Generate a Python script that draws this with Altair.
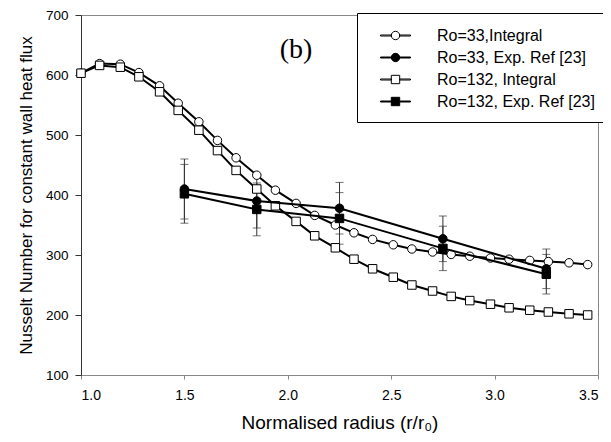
import altair as alt
import pandas as pd

# ---------------- data ----------------
series_names = ["Ro=33,Integral", "Ro=33, Exp. Ref [23]", "Ro=132, Integral", "Ro=132, Exp. Ref [23]"]

x_integral = [1.00, 1.09, 1.19, 1.28, 1.38, 1.47, 1.57, 1.66, 1.75, 1.85, 1.94, 2.04, 2.13,
              2.23, 2.32, 2.41, 2.51, 2.60, 2.70, 2.79, 2.88, 2.98, 3.07, 3.17, 3.26, 3.36, 3.45]
nu_ro33_integral = [603, 619, 618, 604, 582, 553, 522, 491, 462, 433, 408, 386, 366,
                    350, 337, 326, 317, 310, 305, 301, 298, 295, 293, 291, 289, 287, 284]
nu_ro132_integral = [603, 616, 613, 597, 572, 541, 508, 474, 441, 410, 382, 356, 332,
                     312, 293, 277, 263, 250, 240, 231, 224, 218, 212, 208, 205, 202, 200]

x_exp = [1.5, 1.85, 2.25, 2.75, 3.25]
nu_ro33_exp = [410, 390, 378, 327, 277]
err_ro33_exp = [50, 45, 43, 38, 33]
nu_ro132_exp = [402, 376, 361, 311, 268]
err_ro132_exp = [49, 44, 43, 37, 33]

annot_x = [2.04]
annot_y = [642]
annot_text = ["(b)"]

x_ticks = [1.0, 1.5, 2.0, 2.5, 3.0, 3.5]
y_ticks = [100, 200, 300, 400, 500, 600, 700]

# ---------------- tables ----------------
int_rows = []
for name, vals in [(series_names[0], nu_ro33_integral), (series_names[2], nu_ro132_integral)]:
    for x, v in zip(x_integral, vals):
        int_rows.append({"x": x, "nu": v, "series": name})
df_int = pd.DataFrame(int_rows)

exp_rows = []
for name, vals, errs in [(series_names[1], nu_ro33_exp, err_ro33_exp),
                         (series_names[3], nu_ro132_exp, err_ro132_exp)]:
    for x, v, e in zip(x_exp, vals, errs):
        exp_rows.append({"x": x, "nu": v, "lo": v - e, "hi": v + e, "series": name})
df_exp = pd.DataFrame(exp_rows)

df_all = pd.concat([df_int, df_exp[["x", "nu", "series"]]], ignore_index=True)
df_annot = pd.DataFrame({"x": annot_x, "nu": annot_y, "label": annot_text})

FONT = "Liberation Sans"
YTITLE = "Nusselt Number for constant wall heat flux"
XTITLE = "Normalised radius (r/r\u2080)"

xenc = alt.X("x:Q", scale=alt.Scale(domain=[1, 3.5], nice=False, zero=False),
             axis=alt.Axis(values=x_ticks, format=".1f", title=XTITLE, grid=False,
                           domainColor="#888", tickColor="#888", tickSize=4,
                           labelFont=FONT, labelFontSize=14, labelColor="black",
                           titleFont=FONT, titleFontWeight="normal", titleColor="black",
                           labelPadding=9, titlePadding=11, titleFontSize=19))


def yenc(field):
    return alt.Y(f"{field}:Q", scale=alt.Scale(domain=[100, 700], nice=False, zero=False),
                 axis=alt.Axis(values=y_ticks, title=YTITLE, grid=False,
                               domainColor="#333", tickColor="#333", tickSize=6,
                               labelFont=FONT, labelFontSize=13.5, labelColor="black",
                               titleFont=FONT, titleFontWeight="normal", titleColor="black",
                               labelPadding=7, titlePadding=10, titleFontSize=17))


layers = []

# error bars
for name in [series_names[1], series_names[3]]:
    src = alt.Chart(df_exp).transform_filter(alt.datum.series == name)
    layers.append(src.mark_rule(color="#333", strokeWidth=1).encode(x=xenc, y=yenc("lo"), y2="hi:Q"))
    layers.append(src.mark_tick(orient="horizontal", size=8, thickness=1, color="#333")
                  .encode(x=xenc, y=yenc("hi")))
    layers.append(src.mark_tick(orient="horizontal", size=8, thickness=1, color="#333")
                  .encode(x=xenc, y=yenc("lo")))

styles = {
    series_names[0]: ("circle", "white", df_int),
    series_names[2]: ("square", "white", df_int),
    series_names[1]: ("circle", "black", df_exp),
    series_names[3]: ("square", "black", df_exp),
}
for name in [series_names[0], series_names[2], series_names[1], series_names[3]]:
    shape, fill, d = styles[name]
    src = alt.Chart(d).transform_filter(alt.datum.series == name)
    layers.append(src.mark_line(color="black", strokeWidth=2).encode(x=xenc, y=yenc("nu")))
    layers.append(src.mark_point(shape=shape, filled=True, fill=fill, stroke="black",
                                 strokeWidth=1, size=72, opacity=1)
                  .encode(x=xenc, y=yenc("nu")))

# legend symbols: line segment + marker
seg = "M-1.5,-0.05H-0.42V0.05H-1.5Z M0.42,-0.05H1.5V0.05H0.42Z "
circ = seg + "M0.42,0A0.42,0.42 0 1 1 -0.42,0A0.42,0.42 0 1 1 0.42,0Z"
sq = seg + "M-0.42,-0.42H0.42V0.42H-0.42Z"
legend_paths = [circ, circ, sq, sq]
legend_fills = ["white", "black", "white", "black"]
legend_strokes = ["black", "black", "black", "black"]

leg = alt.Legend(title=None, orient="none", legendX=276, legendY=-2, padding=12,
                 symbolSize=400, symbolOffset=16, labelOffset=31, labelFont=FONT,
                 labelFontSize=16, labelColor="black", strokeColor="black",
                 fillColor="white", rowPadding=3, labelLimit=400, symbolOpacity=1,
                 symbolStrokeColor="black", symbolStrokeWidth=1)

layers.append(alt.Chart(df_all).mark_point(opacity=0, filled=True, stroke="black").encode(
    x=xenc, y=yenc("nu"),
    shape=alt.Shape("series:N", scale=alt.Scale(domain=series_names, range=legend_paths), legend=leg),
    fill=alt.Fill("series:N", scale=alt.Scale(domain=series_names, range=legend_fills), legend=leg),
    stroke=alt.Stroke("series:N", scale=alt.Scale(domain=series_names, range=legend_strokes), legend=leg),
))

layers.append(alt.Chart(df_annot).mark_text(font="Liberation Serif", fontSize=28, color="black")
              .encode(x=xenc, y=yenc("nu"), text="label:N"))

chart = alt.layer(*layers).properties(
    width=517, height=360,
    background="white",
    autosize=alt.AutoSizeParams(type="none"),
    padding={"left": 73, "top": 7, "right": 5, "bottom": 60},
).configure_view(stroke="#888", strokeWidth=1)

chart.save("out.html", embed_options={"renderer": "svg", "actions": False})
